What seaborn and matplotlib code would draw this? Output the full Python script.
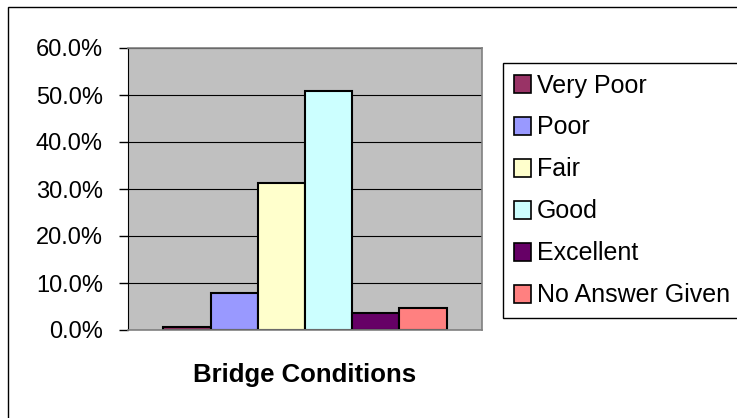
import matplotlib
matplotlib.use("Agg")
import matplotlib.pyplot as plt
import seaborn as sns
import pandas as pd
from matplotlib.patches import Rectangle, Patch
from matplotlib.ticker import PercentFormatter

# data (percent of responses)
conditions = ['Very Poor', 'Poor', 'Fair', 'Good', 'Excellent', 'No Answer Given']
shares = [0.7, 7.9, 31.3, 50.9, 3.7, 4.6]
colors = ['#993366', '#9999FF', '#FFFFCC', '#CCFFFF', '#660066', '#FF8080']
group = 'Bridge Conditions'
y_ticks = [0, 10, 20, 30, 40, 50, 60]

sns.set_style("white")
plt.rcParams['font.family'] = ['Liberation Sans', 'DejaVu Sans']
plt.rcParams['text.color'] = 'black'
plt.rcParams['axes.labelcolor'] = 'black'
plt.rcParams['ytick.color'] = 'black'

df = pd.DataFrame({'group': [group] * len(conditions), 'condition': conditions, 'share': shares})

fig = plt.figure(figsize=(7.37, 4.18), dpi=100)
ax = fig.add_axes([128 / 737, 88 / 418, 354 / 737, 282 / 418])

sns.barplot(data=df, x='group', y='share', hue='condition', hue_order=conditions,
            palette=colors, saturation=1, edgecolor='black', linewidth=1.5,
            width=0.8, legend=False, ax=ax)

# Excel-like gray plot area with black gridlines
ax.set_facecolor('#C0C0C0')
ax.set_xlim(-0.5, 0.5)
ax.set_ylim(0, 60)
ax.set_yticks(y_ticks)
ax.yaxis.set_major_formatter(PercentFormatter(decimals=1))
ax.grid(axis='y', color='black', lw=0.8)
ax.set_axisbelow(True)
for s in ['top', 'right', 'bottom']:
    ax.spines[s].set_color('#808080')
    ax.spines[s].set_linewidth(1.2)
ax.spines['left'].set_color('black')
ax.tick_params(axis='y', left=True, length=6.5, width=1, color='black', pad=11.5,
               labelsize=17, labelcolor='black')
ax.set_xticks([])
ax.set_ylabel('')
ax.set_xlabel(group, fontsize=18.5, fontweight='bold', labelpad=24, color='black')

# legend
handles = [Patch(facecolor=c, edgecolor='black', lw=1.2) for c in colors]
leg = ax.legend(handles, conditions, loc='upper left',
                bbox_to_anchor=(503 / 737, (418 - 63) / 418), bbox_transform=fig.transFigure,
                borderaxespad=0, frameon=True, fancybox=False, edgecolor='black', framealpha=1,
                fontsize=18, handlelength=0.7, handleheight=0.7, handletextpad=0.25,
                labelspacing=0.72, borderpad=0.42)
leg.get_frame().set_linewidth(1)
for t in leg.get_texts():
    t.set_color('black')

# outer chart frame
fig.patches.append(Rectangle((8 / 737, -0.1), 1.2, (418 - 7) / 418 + 0.1,
                             transform=fig.transFigure, fill=False, ec='black', lw=1))

plt.savefig('out.png', dpi=100)
